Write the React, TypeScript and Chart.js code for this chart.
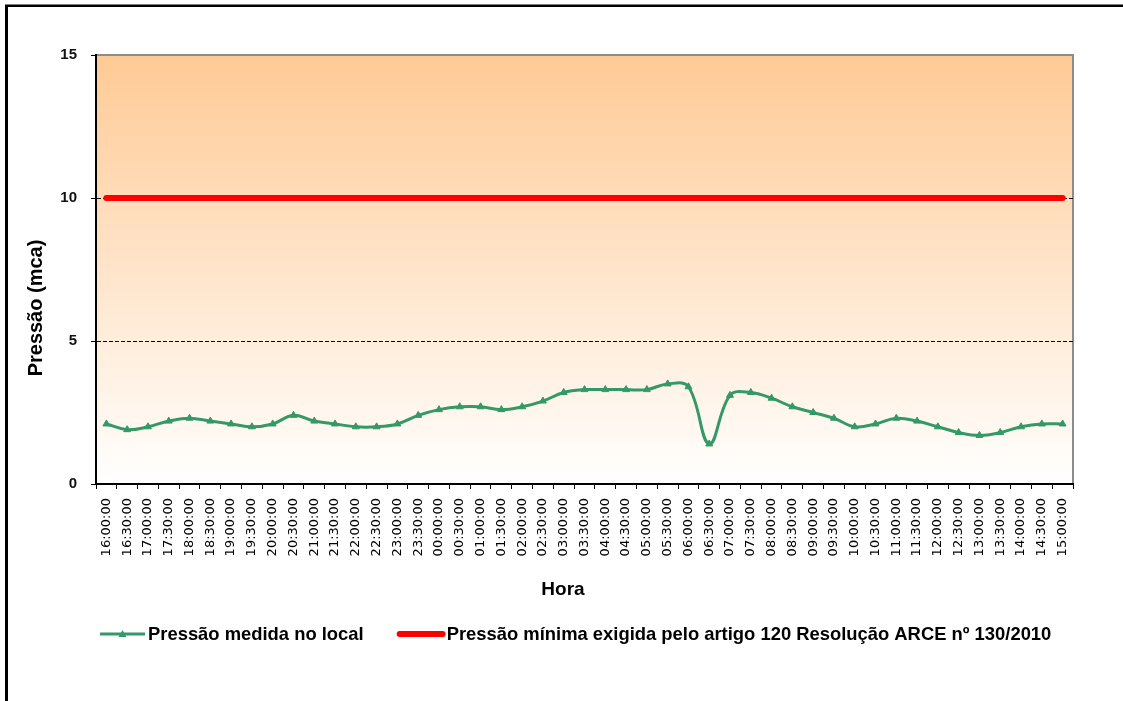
import React, { useEffect, useRef } from 'react';
import { Chart, registerables } from 'chart.js';

Chart.register(...registerables);

const hours = [
  '16:00:00', '16:30:00', '17:00:00', '17:30:00', '18:00:00', '18:30:00', '19:00:00', '19:30:00',
  '20:00:00', '20:30:00', '21:00:00', '21:30:00', '22:00:00', '22:30:00', '23:00:00', '23:30:00',
  '00:00:00', '00:30:00', '01:00:00', '01:30:00', '02:00:00', '02:30:00', '03:00:00', '03:30:00',
  '04:00:00', '04:30:00', '05:00:00', '05:30:00', '06:00:00', '06:30:00', '07:00:00', '07:30:00',
  '08:00:00', '08:30:00', '09:00:00', '09:30:00', '10:00:00', '10:30:00', '11:00:00', '11:30:00',
  '12:00:00', '12:30:00', '13:00:00', '13:30:00', '14:00:00', '14:30:00', '15:00:00',
];

const measuredPressure = [
  2.1, 1.9, 2.0, 2.2, 2.3, 2.2, 2.1, 2.0,
  2.1, 2.4, 2.2, 2.1, 2.0, 2.0, 2.1, 2.4,
  2.6, 2.7, 2.7, 2.6, 2.7, 2.9, 3.2, 3.3,
  3.3, 3.3, 3.3, 3.5, 3.4, 1.4, 3.1, 3.2,
  3.0, 2.7, 2.5, 2.3, 2.0, 2.1, 2.3, 2.2,
  2.0, 1.8, 1.7, 1.8, 2.0, 2.1, 2.1,
];

const minimumPressure = [
  10, 10, 10, 10, 10, 10, 10, 10,
  10, 10, 10, 10, 10, 10, 10, 10,
  10, 10, 10, 10, 10, 10, 10, 10,
  10, 10, 10, 10, 10, 10, 10, 10,
  10, 10, 10, 10, 10, 10, 10, 10,
  10, 10, 10, 10, 10, 10, 10,
];

const seriesNames = [
  'Pressão medida no local',
  'Pressão mínima exigida pelo artigo 120 Resolução ARCE nº 130/2010',
];
const yAxisTitle = 'Pressão (mca)';
const xAxisTitle = 'Hora';

const GREEN = '#339966';
const RED = '#FF0000';
const BOLD = 'bold 18.4px "Liberation Sans", Arial, sans-serif';

const decorPlugin = {
  id: 'decor',
  beforeDraw(chart: any) {
    const { ctx, chartArea: a } = chart;
    ctx.save();
    ctx.fillStyle = '#FFFFFF';
    ctx.fillRect(0, 0, chart.width, chart.height);
    const g = ctx.createLinearGradient(0, a.top, 0, a.bottom);
    g.addColorStop(0, '#FFCA95');
    g.addColorStop(1, '#FFFFFF');
    ctx.fillStyle = g;
    ctx.fillRect(a.left, a.top, a.right - a.left, a.bottom - a.top);
    ctx.strokeStyle = '#8C8C8C';
    ctx.lineWidth = 2;
    ctx.beginPath();
    ctx.moveTo(a.left, a.top);
    ctx.lineTo(a.right, a.top);
    ctx.lineTo(a.right, a.bottom);
    ctx.stroke();
    ctx.fillStyle = '#000000';
    ctx.fillRect(5, 5, 3, chart.height - 5);
    ctx.fillRect(5, 4.5, chart.width - 5, 2.5);
    ctx.restore();
  },
  afterDraw(chart: any) {
    const { ctx } = chart;
    ctx.save();
    ctx.fillStyle = '#000000';
    // y axis title
    ctx.font = 'bold 20px "Liberation Sans", Arial, sans-serif';
    ctx.textAlign = 'center';
    ctx.textBaseline = 'middle';
    ctx.translate(36, 308);
    ctx.rotate(-Math.PI / 2);
    ctx.fillText(yAxisTitle, 0, 0);
    ctx.setTransform(1, 0, 0, 1, 0, 0);
    // x axis title
    ctx.font = 'bold 19px "Liberation Sans", Arial, sans-serif';
    ctx.fillText(xAxisTitle, 563, 590);
    // legend
    const ly = 634;
    ctx.font = BOLD;
    ctx.textAlign = 'left';
    ctx.strokeStyle = GREEN;
    ctx.lineWidth = 3;
    ctx.beginPath();
    ctx.moveTo(100, ly);
    ctx.lineTo(145, ly);
    ctx.stroke();
    ctx.fillStyle = GREEN;
    ctx.beginPath();
    ctx.moveTo(122.5, ly - 4);
    ctx.lineTo(126.5, ly + 3);
    ctx.lineTo(118.5, ly + 3);
    ctx.closePath();
    ctx.fill();
    ctx.fillStyle = '#000000';
    ctx.fillText(seriesNames[0], 148, ly + 1);
    const w1 = ctx.measureText(seriesNames[0]).width;
    const rx = 148 + w1 + 33;
    ctx.strokeStyle = RED;
    ctx.lineWidth = 6;
    ctx.lineCap = 'round';
    ctx.beginPath();
    ctx.moveTo(rx + 3, ly);
    ctx.lineTo(rx + 46, ly);
    ctx.stroke();
    ctx.fillText(seriesNames[1], rx + 50, ly + 1);
    ctx.restore();
  },
};

export default function App() {
  const ref = useRef<HTMLCanvasElement | null>(null);

  useEffect(() => {
    if (!ref.current) return;
    const chart = new Chart(ref.current, {
      type: 'line',
      data: {
        labels: hours,
        datasets: [
          {
            label: seriesNames[0],
            data: measuredPressure,
            borderColor: GREEN,
            backgroundColor: GREEN,
            borderWidth: 3,
            pointStyle: 'triangle',
            pointRadius: 4,
            pointBorderWidth: 1,
            pointBackgroundColor: GREEN,
            pointBorderColor: GREEN,
            tension: 0.4,
            fill: false,
          },
          {
            label: seriesNames[1],
            data: minimumPressure,
            borderColor: RED,
            backgroundColor: RED,
            borderWidth: 6,
            borderCapStyle: 'round',
            pointRadius: 0,
            tension: 0,
            fill: false,
          },
        ],
      },
      options: {
        animation: false,
        responsive: false,
        devicePixelRatio: 1,
        layout: { padding: { top: 55, right: 50, left: 0, bottom: 0 } },
        plugins: {
          legend: { display: false },
          tooltip: { enabled: false },
          title: { display: false },
        },
        scales: {
          x: {
            type: 'category',
            offset: true,
            afterFit: (s: any) => { s.height = 217; },
            grid: {
              offset: true,
              drawOnChartArea: false,
              drawTicks: true,
              tickLength: 5,
              tickColor: '#000000',
              tickWidth: 1,
              tickBorderDash: [],
            },
            border: { display: true, color: '#000000', width: 2 },
            ticks: {
              autoSkip: false,
              maxRotation: 90,
              minRotation: 90,
              padding: 9,
              color: '#000000',
              font: { family: '"DejaVu Sans", sans-serif', size: 13 },
            },
          },
          y: {
            min: 0,
            max: 15,
            afterFit: (s: any) => { s.width = 96; },
            ticks: {
              stepSize: 5,
              padding: 14,
              color: '#111111',
              font: { family: '"Liberation Sans", Arial, sans-serif', size: 15, weight: 'bold' },
            },
            grid: {
              color: (c: any) => (c.tick && (c.tick.value === 5 || c.tick.value === 10) ? '#000000' : 'rgba(0,0,0,0)'),
              lineWidth: 1,
              drawTicks: true,
              tickLength: 5,
              tickColor: '#000000',
              tickWidth: 1,
              tickBorderDash: [],
            },
            border: { display: true, color: '#000000', width: 2, dash: [4, 2] },
          },
        },
      },
      plugins: [decorPlugin],
    } as any);
    return () => chart.destroy();
  }, []);

  return (
    <div style={{ position: 'absolute', left: 0, top: 0, width: 1123, height: 701, background: '#fff' }}>
      <canvas ref={ref} width={1123} height={701} style={{ display: 'block', width: 1123, height: 701 }} />
    </div>
  );
}
